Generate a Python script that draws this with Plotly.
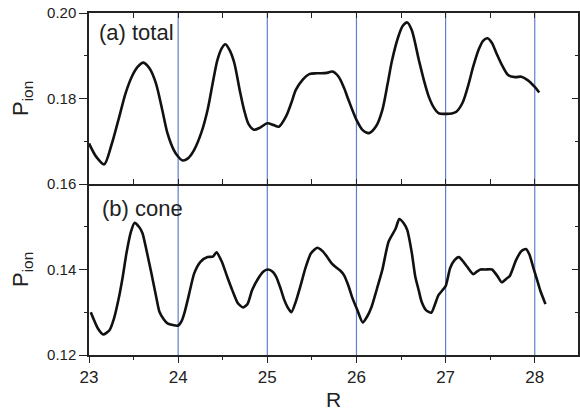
import plotly.graph_objects as go

# ---- data ----
total_R = [23.00, 23.08, 23.17, 23.25, 23.33, 23.41, 23.48, 23.55, 23.61, 23.68, 23.75, 23.82,
           23.88, 23.95, 24.00, 24.05, 24.11, 24.18, 24.26, 24.33, 24.40, 24.44, 24.49, 24.53,
           24.58, 24.63, 24.69, 24.74, 24.79, 24.85, 24.92, 25.00, 25.07, 25.13, 25.21, 25.27,
           25.32, 25.40, 25.47, 25.55, 25.60, 25.67, 25.73, 25.80, 25.86, 25.91, 26.00, 26.07,
           26.14, 26.22, 26.29, 26.35, 26.40, 26.47, 26.52, 26.57, 26.62, 26.70, 26.76, 26.81,
           26.87, 26.92, 27.00, 27.07, 27.12, 27.19, 27.25, 27.31, 27.37, 27.42, 27.47, 27.52,
           27.57, 27.64, 27.70, 27.78, 27.85, 27.92, 28.00, 28.05]
total_P = [0.1695, 0.1664, 0.1646, 0.1690, 0.1750, 0.1812, 0.1851, 0.1875, 0.1884, 0.1870, 0.1836, 0.1775,
           0.1719, 0.1680, 0.1664, 0.1655, 0.1660, 0.1680, 0.1720, 0.1773, 0.1850, 0.1890, 0.1918, 0.1927,
           0.1912, 0.1883, 0.1820, 0.1773, 0.1740, 0.1727, 0.1732, 0.1742, 0.1738, 0.1734, 0.1758, 0.1790,
           0.1820, 0.1845, 0.1857, 0.1859, 0.1859, 0.1860, 0.1863, 0.1851, 0.1825, 0.1797, 0.1750, 0.1726,
           0.1719, 0.1735, 0.1773, 0.1835, 0.1890, 0.1945, 0.1970, 0.1978, 0.1960, 0.1890, 0.1840, 0.1805,
           0.1778, 0.1766, 0.1764, 0.1765, 0.1769, 0.1790, 0.1828, 0.1875, 0.1914, 0.1935, 0.1941, 0.1930,
           0.1906, 0.1875, 0.1855, 0.1850, 0.1851, 0.1843, 0.1827, 0.1814]

cone_R = [23.02, 23.10, 23.16, 23.23, 23.28, 23.33, 23.38, 23.42, 23.47, 23.51, 23.56, 23.60,
          23.65, 23.70, 23.75, 23.79, 23.84, 23.88, 23.94, 24.00, 24.04, 24.07, 24.12, 24.18,
          24.25, 24.33, 24.39, 24.43, 24.49, 24.55, 24.61, 24.67, 24.73, 24.78, 24.83, 24.91,
          24.96, 25.01, 25.06, 25.10, 25.15, 25.19, 25.23, 25.27, 25.32, 25.37, 25.43, 25.49,
          25.56, 25.62, 25.67, 25.72, 25.77, 25.82, 25.86, 25.91, 25.95, 26.01, 26.07, 26.12,
          26.17, 26.23, 26.29, 26.36, 26.44, 26.48, 26.53, 26.57, 26.62, 26.66, 26.70, 26.73,
          26.78, 26.84, 26.88, 26.92, 27.00, 27.05, 27.10, 27.15, 27.20, 27.24, 27.31, 27.35,
          27.39, 27.45, 27.52, 27.58, 27.63, 27.68, 27.72, 27.79, 27.85, 27.90, 27.94, 27.98,
          28.02, 28.06, 28.12]
cone_P = [0.1300, 0.1262, 0.1248, 0.1258, 0.1285, 0.1329, 0.1385, 0.1438, 0.1488, 0.1509, 0.1500, 0.1485,
          0.1440, 0.1391, 0.1340, 0.1301, 0.1283, 0.1274, 0.1270, 0.1269, 0.1280, 0.1298, 0.1340, 0.1391,
          0.1418, 0.1429, 0.1430, 0.1440, 0.1418, 0.1383, 0.1350, 0.1321, 0.1311, 0.1320, 0.1352, 0.1383,
          0.1396, 0.1400, 0.1395, 0.1383, 0.1355, 0.1329, 0.1311, 0.1300, 0.1325, 0.1360, 0.1405, 0.1438,
          0.1451, 0.1443, 0.1430, 0.1415, 0.1405, 0.1397, 0.1387, 0.1362, 0.1336, 0.1305, 0.1276, 0.1290,
          0.1313, 0.1355, 0.1399, 0.1465, 0.1496, 0.1518, 0.1508, 0.1492, 0.1440, 0.1383, 0.1350, 0.1325,
          0.1305, 0.1299, 0.1318, 0.1340, 0.1361, 0.1403, 0.1422, 0.1429, 0.1418, 0.1407, 0.1389, 0.1395,
          0.1400, 0.1400, 0.1400, 0.1385, 0.1370, 0.1378, 0.1385, 0.1422, 0.1443, 0.1448, 0.1435, 0.1407,
          0.1380, 0.1352, 0.1319]

vlines_R = [24, 25, 26, 27, 28]
x_range = [23, 28.485]
x_ticks = [23, 24, 25, 26, 27, 28]
x_minor = [23.5, 24.5, 25.5, 26.5, 27.5, 28.5]
top_ticks = [0.16, 0.18, 0.20]
top_minor = [0.17, 0.19]
bot_ticks = [0.12, 0.14]
bot_minor = [0.13, 0.15]

FONT = "Arial, Liberation Sans, Helvetica, sans-serif"
AX = "#222222"

fig = go.Figure()
fig.add_trace(go.Scatter(x=total_R, y=total_P, mode="lines", xaxis="x", yaxis="y",
                         line=dict(color="#111111", width=2.6, shape="spline", smoothing=0.8),
                         showlegend=False))
fig.add_trace(go.Scatter(x=cone_R, y=cone_P, mode="lines", xaxis="x2", yaxis="y2",
                         line=dict(color="#111111", width=2.6, shape="spline", smoothing=0.6),
                         showlegend=False))

for r in vlines_R:
    fig.add_shape(type="line", xref="x2", yref="paper", x0=r, x1=r, y0=0, y1=1,
                  line=dict(color="#5f7fcc", width=1.2), layer="below")

common_x = dict(range=x_range, showline=True, linecolor=AX, linewidth=1.5,
                showgrid=False, zeroline=False, tickvals=x_ticks, tickcolor=AX)
fig.update_layout(
    width=580, height=414,
    margin=dict(l=89, r=0, t=13, b=59),
    paper_bgcolor="white", plot_bgcolor="white",
    font=dict(family=FONT, color="#222222"),
    xaxis=dict(**common_x, domain=[0, 1], anchor="y", showticklabels=False,
               ticks="inside", ticklen=5, mirror="allticks",
               minor=dict(tickvals=x_minor, ticks="inside", ticklen=4, tickcolor=AX)),
    xaxis2=dict(**common_x, domain=[0, 1], anchor="y2", ticks="outside", ticklen=6,
                mirror=False, tickfont=dict(size=17, family=FONT, color="#222222"),
                minor=dict(tickvals=x_minor, ticks="outside", ticklen=3, tickcolor=AX),
                title=dict(text="R", font=dict(size=21, family=FONT, color="#222222"), standoff=6)),
    yaxis=dict(domain=[0.5, 1], anchor="x", range=[0.16, 0.20], tickvals=top_ticks,
               ticktext=["0.16", "0.18", "0.20"], ticks="outside", ticklen=8, tickcolor=AX,
               showline=True, linecolor=AX, linewidth=1.5, mirror=True, showgrid=False,
               zeroline=False, tickfont=dict(size=15, family=FONT, color="#222222"),
               minor=dict(tickvals=top_minor, ticks="outside", ticklen=3, tickcolor=AX)),
    yaxis2=dict(domain=[0, 0.5], anchor="x2", range=[0.12, 0.16], tickvals=bot_ticks,
                ticktext=["0.12", "0.14"], ticks="outside", ticklen=8, tickcolor=AX,
                showline=True, linecolor=AX, linewidth=1.5, mirror=True, showgrid=False,
                zeroline=False, tickfont=dict(size=15, family=FONT, color="#222222"),
                minor=dict(tickvals=bot_minor, ticks="outside", ticklen=3, tickcolor=AX)),
    yaxis3=dict(overlaying="y", anchor="x", side="right", range=[0.16, 0.20],
                tickvals=top_ticks, ticks="inside", ticklen=6, tickcolor=AX,
                showticklabels=False, showgrid=False, zeroline=False, showline=False,
                minor=dict(tickvals=top_minor, ticks="inside", ticklen=3, tickcolor=AX)),
    yaxis4=dict(overlaying="y2", anchor="x2", side="right", range=[0.12, 0.16],
                tickvals=bot_ticks, ticks="inside", ticklen=6, tickcolor=AX,
                showticklabels=False, showgrid=False, zeroline=False, showline=False,
                minor=dict(tickvals=bot_minor, ticks="inside", ticklen=3, tickcolor=AX)),
)

# invisible traces so the overlay axes are drawn
fig.add_trace(go.Scatter(x=[None], y=[None], xaxis="x", yaxis="y3", showlegend=False, hoverinfo="skip"))
fig.add_trace(go.Scatter(x=[None], y=[None], xaxis="x2", yaxis="y4", showlegend=False, hoverinfo="skip"))

# y-axis titles
for yc in [0.75, 0.25]:
    fig.add_annotation(xref="paper", yref="paper", x=-0.138, y=yc, xanchor="center", yanchor="middle",
                       text="P<sub>ion</sub>", textangle=-90, showarrow=False,
                       font=dict(size=22, family=FONT, color="#222222"))

fig.add_annotation(xref="paper", yref="paper", x=0.016, y=0.943, xanchor="left", yanchor="middle",
                   text="(a) total", showarrow=False, font=dict(size=22, family=FONT, color="#222222"))
fig.add_annotation(xref="paper", yref="paper", x=0.022, y=0.427, xanchor="left", yanchor="middle",
                   text="(b) cone", showarrow=False, font=dict(size=22, family=FONT, color="#222222"))

fig.write_html("out.html")
